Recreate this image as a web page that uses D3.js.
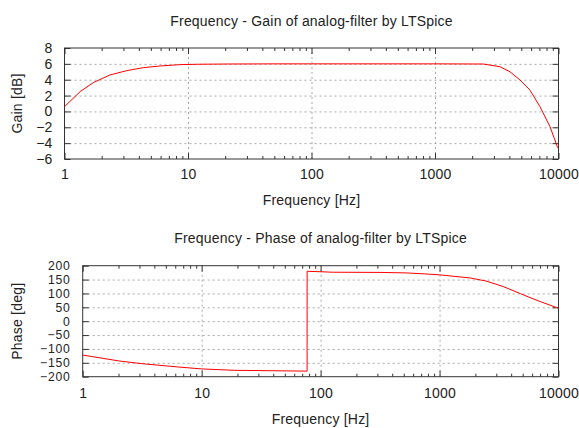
<!DOCTYPE html>
<html>
<head>
<meta charset="utf-8">
<script src="https://cdn.jsdelivr.net/npm/d3@7"></script>
<style>
  body { margin: 0; background: #fff; }
  svg { display: block; font-family: 'Liberation Sans', Arial, sans-serif; }
  text { fill: #222; letter-spacing: 0.2px; }
  .grid line { stroke: #a8a8a8; stroke-dasharray: 2,3; }
  .grid path { display: none; }
  .axis path { display: none; }
  .axis line { stroke: #333; }
  .frame { fill: none; stroke: #333; }
  .curve { fill: none; stroke: #ff0000; stroke-width: 1; }
</style>
</head>
<body>
<svg width="579" height="428"></svg>
<script>
// data
const gainFreq = [1, 1.34, 1.71, 2.33, 3.19, 4.35, 5.93, 8.6, 12, 20, 50, 100, 1000, 2460, 3360, 4050, 4870, 5870, 7080, 8520, 9790, 10000]
const gainDb = [0.6, 2.5, 3.63, 4.6, 5.14, 5.52, 5.73, 5.9, 5.95, 5.98, 6, 6, 6, 5.98, 5.64, 5.0, 3.97, 2.7, 0.6, -1.9, -4.45, -4.7]

const phaseFreq = [1, 2, 3.13, 5.97, 10, 19, 50, 77, 77, 128, 316, 525, 750, 1000, 1800, 2500, 3470, 4800, 6600, 9660, 10000]
const phaseDeg = [-122, -143, -153, -164, -172, -177, -179, -180, 180, 176.5, 175.8, 174, 170.5, 167, 156, 144, 124, 99, 75, 49, 47]

const freqTicks = [1, 10, 100, 1000, 10000]
const gainTicks = [-6, -4, -2, 0, 2, 4, 6, 8]
const phaseTicks = [-200, -150, -100, -50, 0, 50, 100, 150, 200]

// selections
const $svg = d3.select('svg')

const fontSize = 14

const panels = [
  {
    title: 'Frequency - Gain of analog-filter by LTSpice',
    ylabel: 'Gain [dB]',
    x: gainFreq, y: gainDb,
    yDomain: [-6, 8], yTicks: gainTicks, yTickFont: 14, yTickSpacing: 0.2,
    left: 64.5, right: 558.5, top: 48, bottom: 159,
    titleY: 26, xlabelY: 205, ylabelX: 22, tickPad: 10
  },
  {
    title: 'Frequency - Phase of analog-filter by LTSpice',
    ylabel: 'Phase [deg]',
    x: phaseFreq, y: phaseDeg,
    // ticks sit close together here, so the labels are a bit smaller
    yDomain: [-200, 200], yTicks: phaseTicks, yTickFont: 12.2, yTickSpacing: 0.8,
    left: 82.7, right: 558.5, top: 265.7, bottom: 376.7,
    titleY: 243, xlabelY: 424, ylabelX: 22, tickPad: 11
  }
]

function minorTicks(){
  const out = []
  for (let d = 1; d < 10000; d *= 10) {
    for (let k = 2; k <= 9; k++) out.push(d * k)
  }
  return out
}

function drawPanel(p){
  const width = p.right - p.left
  const height = p.bottom - p.top

  const scaleX = d3.scaleLog().domain([1, 10000]).range([0, width])
  const scaleY = d3.scaleLinear().domain(p.yDomain).range([height, 0])

  const $g = $svg.append('g')
    .attr('transform', `translate(${p.left}, ${p.top})`)

  // grid
  $g.append('g').attr('class', 'grid')
    .attr('transform', `translate(0, ${height})`)
    .call(d3.axisBottom(scaleX).tickValues(freqTicks.slice(1, -1)).tickSize(-height).tickFormat(''))
  $g.append('g').attr('class', 'grid')
    .call(d3.axisLeft(scaleY).tickValues(p.yTicks.slice(1, -1)).tickSize(-width).tickFormat(''))

  // x axes, ticks pointing inward
  $g.append('g').attr('class', 'axis')
    .attr('transform', `translate(0, ${height})`)
    .call(d3.axisBottom(scaleX).tickValues(freqTicks).tickSize(-6).tickPadding(p.tickPad)
      .tickFormat(d3.format('d')))
    .selectAll('text').style('font-size', fontSize + 'px')
  $g.append('g').attr('class', 'axis')
    .attr('transform', `translate(0, ${height})`)
    .call(d3.axisBottom(scaleX).tickValues(minorTicks()).tickSize(-3).tickFormat(''))
  $g.append('g').attr('class', 'axis')
    .call(d3.axisTop(scaleX).tickValues(freqTicks).tickSize(-6).tickFormat(''))
  $g.append('g').attr('class', 'axis')
    .call(d3.axisTop(scaleX).tickValues(minorTicks()).tickSize(-3).tickFormat(''))

  // y axes
  $g.append('g').attr('class', 'axis')
    .call(d3.axisLeft(scaleY).tickValues(p.yTicks).tickSize(-6).tickPadding(12))
    .selectAll('text')
    .style('font-size', p.yTickFont + 'px')
    .style('letter-spacing', p.yTickSpacing + 'px')
  $g.append('g').attr('class', 'axis')
    .attr('transform', `translate(${width}, 0)`)
    .call(d3.axisRight(scaleY).tickValues(p.yTicks).tickSize(-6).tickFormat(''))

  $g.append('rect').attr('class', 'frame')
    .attr('width', width).attr('height', height)

  const rows = p.x.map((f, i) => ({f: f, v: p.y[i]}))
  const line = d3.line()
    .x(d => scaleX(d.f))
    .y(d => scaleY(d.v))

  $g.append('path').attr('class', 'curve')
    .datum(rows)
    .attr('d', line)

  const cx = p.left + width / 2

  $svg.append('text')
    .attr('x', cx).attr('y', p.titleY)
    .attr('text-anchor', 'middle')
    .style('font-size', fontSize + 'px')
    .text(p.title)

  $svg.append('text')
    .attr('x', cx).attr('y', p.xlabelY)
    .attr('text-anchor', 'middle')
    .style('font-size', fontSize + 'px')
    .text('Frequency [Hz]')

  $svg.append('text')
    .attr('transform', `translate(${p.ylabelX}, ${p.top + height / 2}) rotate(-90)`)
    .attr('text-anchor', 'middle')
    .style('font-size', fontSize + 'px')
    .text(p.ylabel)
}

panels.forEach(drawPanel)
</script>
</body>
</html>
